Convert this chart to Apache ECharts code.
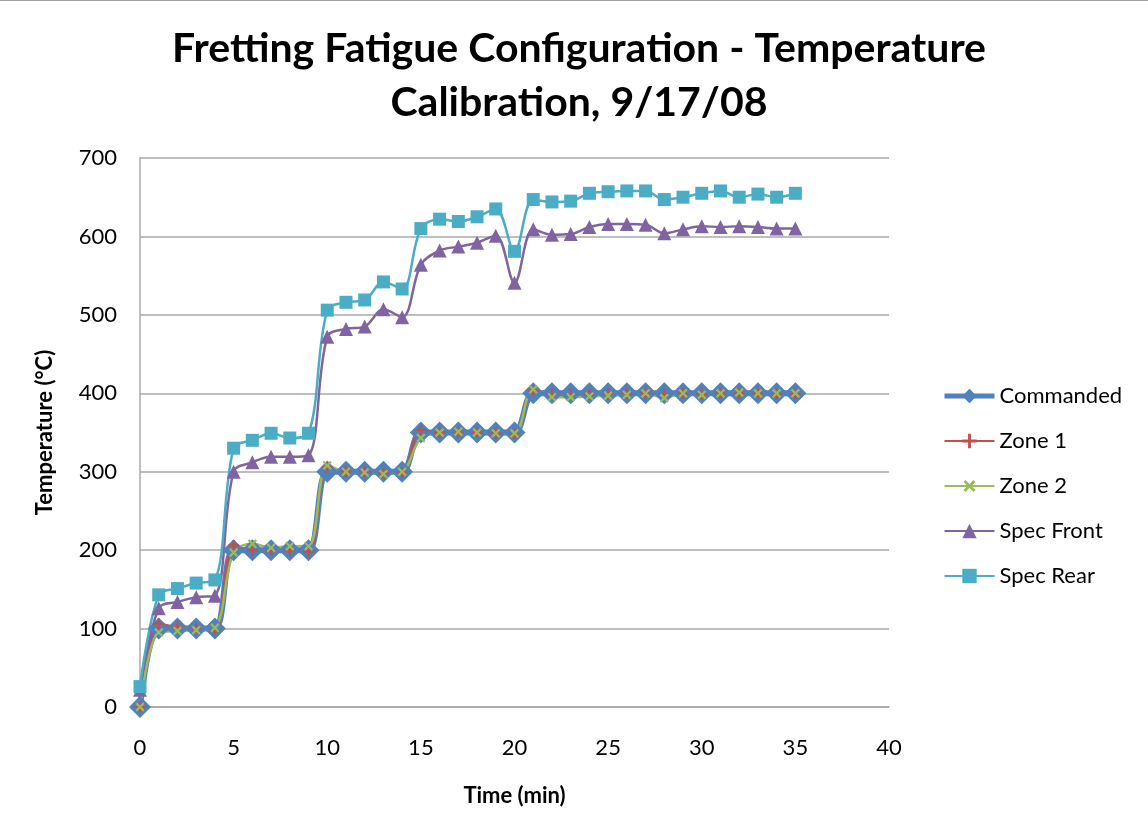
<!DOCTYPE html>
<html>
<head>
<meta charset="utf-8">
<script src="https://cdn.jsdelivr.net/npm/echarts@6/dist/echarts.min.js"></script>
<style>
html,body{margin:0;padding:0;background:#fff;}
#chart{width:1148px;height:838px;}
</style>
</head>
<body>
<div id="chart"></div>
<script>
const timeMin = [0,1,2,3,4,5,6,7,8,9,10,11,12,13,14,15,16,17,18,19,20,21,22,23,24,25,26,27,28,29,30,31,32,33,34,35];
const commanded = [0,100,100,100,100,200,200,200,200,200,300,300,300,300,300,350,350,350,350,350,350,400,400,400,400,400,400,400,400,400,400,400,400,400,400,400];
const zone1 = [0,106,102,100,98,206,200,200,200,198,306,300,300,298,299,353,350,350,350,349,348,403,399,399,399,400,400,400,399,400,399,400,400,400,399,399];
const zone2 = [0,95,97,98,101,197,208,203,205,205,308,300,299,297,300,343,350,351,350,349,349,405,395,395,396,397,398,400,394,400,398,400,401,400,400,400];
const specFront = [22,126,134,140,142,300,312,319,319,321,472,482,485,507,497,564,582,587,592,601,541,609,602,603,612,616,616,615,604,609,613,612,613,612,610,610];
const specRear = [26,143,151,158,162,330,340,349,343,349,506,516,519,542,533,610,622,619,625,635,581,647,644,645,655,657,658,658,647,650,655,658,650,654,650,655];
const seriesNames = ['Commanded','Zone 1','Zone 2','Spec Front','Spec Rear'];
const titleText = 'Fretting Fatigue Configuration - Temperature\nCalibration, 9/17/08';
const xAxisName = 'Time (min)';
const yAxisName = 'Temperature (°C)';

const pair = arr => arr.map((v, i) => [timeMin[i], v]);
const FONT = 'Lato, "Open Sans", sans-serif';
const plusPath = 'path://M4,0H6V4H10V6H6V10H4V6H0V4H4Z';

const chart = echarts.init(document.getElementById('chart'), null, {renderer: 'canvas'});
chart.setOption({
  animation: false,
  backgroundColor: '#ffffff',
  title: {
    text: titleText,
    left: 574,
    top: 17,
    textAlign: 'center',
    textStyle: {fontFamily: FONT, fontSize: 41, fontWeight: 'bold', color: '#000', lineHeight: 54}
  },
  graphic: [{type: 'line', shape: {x1: 0, y1: 0.5, x2: 1148, y2: 0.5}, style: {stroke: '#a0a0a0', lineWidth: 1}}],
  grid: {left: 140, top: 158, width: 749, height: 549, containLabel: false},
  legend: {
    orient: 'vertical',
    left: 937,
    top: 380,
    itemWidth: 50,
    itemHeight: 18,
    itemGap: 23,
    textStyle: {fontFamily: FONT, fontSize: 22, color: '#000', lineHeight: 22},
    data: [
      {name: seriesNames[0], lineStyle: {width: 5}},
      seriesNames[1], seriesNames[2], seriesNames[3], seriesNames[4]
    ]
  },
  xAxis: {
    type: 'value',
    min: 0, max: 40, interval: 5,
    name: xAxisName,
    nameLocation: 'middle',
    nameGap: 78,
    nameTextStyle: {fontFamily: FONT, fontSize: 22, fontWeight: 'bold', color: '#000'},
    axisLine: {show: true, lineStyle: {color: '#a8a8a8', width: 1.5}},
    axisTick: {show: false},
    axisLabel: {fontFamily: FONT, fontSize: 22, color: '#000', margin: 30},
    splitLine: {show: false}
  },
  yAxis: {
    type: 'value',
    min: 0, max: 700, interval: 100,
    name: yAxisName,
    nameLocation: 'middle',
    nameGap: 84,
    nameRotate: 90,
    nameTextStyle: {fontFamily: FONT, fontSize: 22, fontWeight: 'bold', color: '#000'},
    axisLine: {show: true, lineStyle: {color: '#a8a8a8', width: 1.5}},
    axisTick: {show: false},
    axisLabel: {fontFamily: FONT, fontSize: 22, color: '#000', margin: 23},
    splitLine: {show: true, lineStyle: {color: '#a8a8a8', width: 1.5}}
  },
  series: [
    {name: seriesNames[0], type: 'line', data: pair(commanded), smooth: 0.35,
     symbol: 'diamond', symbolSize: 22, color: '#4f81bd',
     lineStyle: {width: 6, color: '#4f81bd'}, itemStyle: {color: '#4f81bd'}},
    {name: seriesNames[1], type: 'line', data: pair(zone1), smooth: 0.35,
     symbol: plusPath, symbolSize: 11, color: '#c0504d',
     lineStyle: {width: 2.5, color: '#c0504d'}, itemStyle: {color: '#c0504d'}},
    {name: seriesNames[2], type: 'line', data: pair(zone2), smooth: 0.35,
     symbol: plusPath, symbolSize: 11, symbolRotate: 45, color: '#9bbb59',
     lineStyle: {width: 2.5, color: '#9bbb59'}, itemStyle: {color: '#9bbb59'}},
    {name: seriesNames[3], type: 'line', data: pair(specFront), smooth: 0.35,
     symbol: 'triangle', symbolSize: 14, color: '#8064a2',
     lineStyle: {width: 2.5, color: '#8064a2'}, itemStyle: {color: '#8064a2'}},
    {name: seriesNames[4], type: 'line', data: pair(specRear), smooth: 0.35,
     symbol: 'rect', symbolSize: 13, color: '#4bacc6',
     lineStyle: {width: 2.5, color: '#4bacc6'}, itemStyle: {color: '#4bacc6'}}
  ]
});
</script>
</body>
</html>
